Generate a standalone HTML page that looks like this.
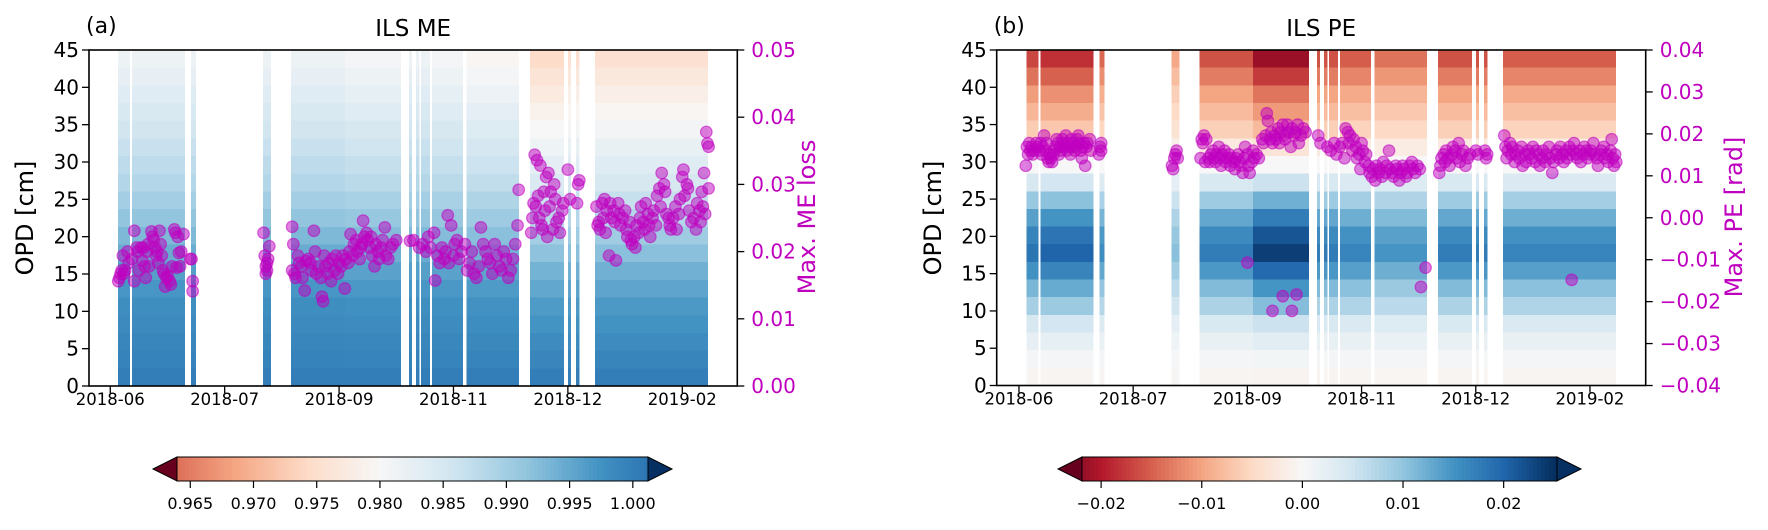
<!DOCTYPE html>
<html><head><meta charset="utf-8">
<style>
html,body{margin:0;padding:0;background:#fff;}
svg text{font-family:"DejaVu Sans","Liberation Sans",sans-serif;}
</style></head>
<body>
<svg id="fig" width="1768" height="525" viewBox="0 0 1768 525" xmlns="http://www.w3.org/2000/svg">
<g id="panelA"></g>
<g id="panelB"></g>
</svg>
<script>
// ---- data ----
const xTickLabels = ["2018-06","2018-07","2018-09","2018-11","2018-12","2019-02"];
const opdTicks = [0,5,10,15,20,25,30,35,40,45];
const meTicks = [0.00,0.01,0.02,0.03,0.04,0.05];
const peTicks = [-0.04,-0.03,-0.02,-0.01,0.00,0.01,0.02,0.03,0.04];
const cbTicksA = [0.965,0.970,0.975,0.980,0.985,0.990,0.995,1.000];
const cbTicksB = [-0.02,-0.01,0.00,0.01,0.02];
const nRows = 19;
// heatmap segments (time units, tick index) and per-segment parameters
const segStart = [0.067,0.19,0.705,1.335,1.58,2.05,2.611,2.672,2.716,2.811,3.114,3.669,4.001,4.071,4.238];
const segEnd   = [0.172,0.653,0.749,1.405,2.05,2.541,2.637,2.703,2.794,3.082,3.573,3.966,4.027,4.101,5.226];
const segShiftA = [0,0,0,0,0,-0.001,0,0,0,-0.001,-0.002,-0.007,-0.006,-0.006,-0.006];
const segScaleB = [1.05,1.15,0.9,0.6,1.0,1.35,1.0,1.0,1.0,0.95,0.85,1.0,1.0,1.0,0.95];
// ME profile per row, top row first
const meProfile = [0.9815,0.9825,0.9835,0.9845,0.9855,0.9865,0.9875,0.9885,0.990,0.9915,0.993,0.9945,0.996,0.997,0.998,0.9985,0.999,0.9995,1.0];
// PE profile per row, top row first
const peProfile = [-0.016,-0.013,-0.010,-0.008,-0.006,-0.0025,0.0,0.004,0.009,0.013,0.016,0.0175,0.0145,0.011,0.008,0.004,0.002,0.0005,-0.0005];
// scatter: Max ME loss
const meT = [0.07,0.08,0.09,0.10,0.11,0.12,0.13,0.15,0.16,0.19,0.21,0.21,0.23,0.24,0.25,0.27,0.28,0.29,0.30,0.31,0.32,0.33,0.34,0.36,0.37,0.38,0.39,0.40,0.41,0.42,0.43,0.44,0.45,0.46,0.47,0.48,0.49,0.50,0.52,0.53,0.54,0.56,0.57,0.58,0.59,0.60,0.61,0.62,0.64,0.70,0.71,0.72,0.72,
1.34,1.35,1.36,1.37,1.38,1.39,1.37,1.36,
1.59,1.59,1.60,1.61,1.62,1.64,1.65,1.67,1.68,1.70,1.71,1.73,1.75,1.76,1.78,1.79,1.80,1.82,1.84,1.85,1.86,1.87,1.88,1.90,1.91,1.93,1.94,1.96,1.97,1.99,2.00,2.02,2.03,2.05,2.06,2.08,2.09,2.10,2.12,2.13,2.15,2.16,2.18,2.19,2.20,2.21,2.22,2.24,2.25,2.27,2.28,2.29,2.31,2.32,2.34,2.35,2.37,2.38,2.40,2.41,2.43,2.45,2.47,2.50,
2.62,2.65,2.70,2.73,2.76,2.78,2.80,2.83,2.84,2.86,2.88,2.90,2.92,2.93,2.95,2.96,2.98,3.00,3.01,3.03,3.05,3.07,3.10,3.12,3.14,3.16,3.18,3.20,3.22,3.24,3.26,3.28,3.30,3.32,3.34,3.36,3.38,3.40,3.42,3.44,3.46,3.48,3.50,3.52,3.54,3.56,3.57,
3.68,3.69,3.70,3.71,3.72,3.73,3.74,3.75,3.76,3.77,3.78,3.79,3.80,3.81,3.82,3.83,3.84,3.85,3.87,3.88,3.89,3.90,3.92,3.93,3.95,3.96,4.00,4.02,4.08,4.09,4.10,
4.25,4.26,4.27,4.28,4.30,4.31,4.32,4.33,4.34,4.36,4.37,4.38,4.40,4.41,4.42,4.44,4.45,4.46,4.48,4.50,4.51,4.52,4.54,4.55,4.56,4.58,4.59,4.60,4.62,4.63,4.64,4.66,4.67,4.68,4.70,4.71,4.72,4.74,4.75,4.77,4.78,4.80,4.81,4.82,4.84,4.85,4.86,4.88,4.89,4.90,4.92,4.94,4.95,4.97,4.98,5.00,5.01,5.02,5.04,5.05,5.06,5.08,5.10,5.12,5.13,5.15,5.16,5.17,5.18,5.19,5.20,5.21,5.22,5.23,5.23];
const meV = [.0156,.0161,.0167,.0172,.0194,.0167,.0172,.02,.0183,.0189,.0231,.0156,.0206,.02,.0172,.0206,.0187,.0206,.0178,.0161,.02,.0211,.0178,.023,.0222,.0217,.0206,.0194,.02,.0183,.0231,.0211,.0194,.0172,.0167,.0148,.0161,.0164,.0156,.0151,.0178,.0233,.0228,.0176,.0222,.0198,.0178,.02,.0226,.0189,.0189,.0156,.0141,
.0228,.0194,.0178,.0172,.0189,.0208,.0183,.0167,
.0237,.0172,.0211,.0167,.0161,.0194,.0183,.0178,.0161,.0142,.0186,.0189,.0183,.0172,.0231,.02,.0167,.0178,.0161,.0133,.0126,.0194,.0178,.0167,.0183,.0156,.0189,.0172,.0194,.0167,.0183,.0178,.0194,.0145,.0189,.0183,.0200,.0226,.0194,.0211,.0217,.0200,.0189,.0206,.0211,.0246,.0222,.0228,.0217,.0206,.0222,.0194,.0178,.0211,.0200,.0189,.0206,.0217,.0236,.0194,.0189,.0206,.0211,.0217,
.0216,.0217,.0206,.0211,.0200,.0222,.0206,.0228,.0157,.0194,.0183,.0206,.0189,.0200,.0254,.0183,.0239,.0194,.0211,.0217,.0189,.0200,.0211,.0172,.0183,.0200,.0167,.0161,.0178,.0236,.0211,.0200,.0189,.0183,.0167,.0211,.0194,.0178,.0172,.0200,.0189,.0161,.0172,.0189,.0211,.0239,.0292,
.0228,.0250,.0272,.0344,.0267,.0336,.0283,.0250,.0328,.0239,.0233,.0289,.0261,.0311,.0222,.0317,.0267,.0289,.0233,.0300,.0278,.0244,.0250,.0228,.0261,.0272,.0322,.0278,.0272,.0300,.0306,
.0267,.0239,.0244,.0233,.0272,.0250,.0278,.0228,.0261,.0194,.0272,.0250,.0261,.0244,.0187,.0272,.0256,.0239,.0250,.0261,.0233,.0222,.0244,.0217,.0211,.0222,.0206,.0239,.0228,.0250,.0267,.0244,.0233,.0272,.0256,.0239,.0222,.0250,.0261,.0239,.0283,.0294,.0267,.0317,.0300,.0289,.0256,.0250,.0239,.0233,.0250,.0267,.0233,.0256,.0278,.0311,.0322,.0283,.0300,.0294,.0261,.0244,.0250,.0233,.0272,.0261,.0244,.0289,.0267,.0317,.0256,.0378,.0361,.0356,.0294];
// scatter: Max PE
const peT = [0.06,0.07,0.08,0.09,0.10,0.11,0.12,0.13,0.15,0.16,0.18,0.19,0.20,0.21,0.22,0.23,0.24,0.25,0.26,0.27,0.28,0.29,0.30,0.31,0.32,0.33,0.34,0.35,0.36,0.37,0.38,0.39,0.40,0.41,0.42,0.43,0.44,0.45,0.46,0.47,0.48,0.49,0.50,0.51,0.52,0.53,0.54,0.55,0.56,0.57,0.58,0.59,0.60,0.62,0.63,0.70,0.71,0.72,0.72,
1.34,1.35,1.36,1.37,1.38,1.39,
1.59,1.60,1.61,1.62,1.63,1.64,1.66,1.67,1.68,1.70,1.71,1.72,1.73,1.75,1.76,1.77,1.78,1.80,1.81,1.82,1.84,1.85,1.86,1.88,1.89,1.90,1.92,1.93,1.94,1.96,1.97,1.98,2.00,2.01,2.02,2.04,2.05,2.06,2.08,2.10,2.00,
2.13,2.14,2.16,2.17,2.18,2.20,2.21,2.22,2.24,2.25,2.27,2.28,2.29,2.31,2.32,2.33,2.35,2.36,2.38,2.39,2.41,2.42,2.44,2.45,2.47,2.49,2.51,2.22,2.31,2.39,2.43,
2.62,2.64,2.70,2.73,2.76,2.78,2.81,2.83,2.85,2.86,2.88,2.89,2.90,2.92,2.93,2.95,2.96,2.98,2.99,3.00,3.01,3.03,3.04,
3.06,3.07,3.09,3.10,3.12,3.13,3.15,3.16,3.18,3.19,3.21,3.22,3.24,3.25,3.27,3.28,3.30,3.31,3.33,3.34,3.36,3.37,3.39,3.40,3.42,3.44,3.45,3.47,3.49,3.51,3.52,3.56,
3.68,3.69,3.70,3.72,3.73,3.74,3.76,3.77,3.79,3.80,3.82,3.83,3.85,3.86,3.88,3.89,3.91,3.93,3.95,4.00,4.02,4.08,4.09,4.10,
4.25,4.26,4.27,4.28,4.30,4.31,4.32,4.34,4.35,4.37,4.38,4.40,4.41,4.43,4.44,4.46,4.47,4.49,4.50,4.52,4.53,4.55,4.56,4.58,4.59,4.61,4.62,4.64,4.65,4.67,4.68,4.70,4.71,4.73,4.74,4.76,4.77,4.79,4.80,4.82,4.83,4.85,4.86,4.88,4.89,4.91,4.92,4.94,4.95,4.97,4.98,5.00,5.01,5.03,5.04,5.06,5.07,5.09,5.10,5.12,5.13,5.15,5.16,5.18,5.19,5.20,5.21,5.22,5.23,4.84];
const peV = [.0124,.0169,.0151,.0178,.016,.0169,.0151,.016,.0178,.0169,.016,.0178,.0151,.0169,.0196,.016,.0178,.0142,.0133,.0151,.0142,.0133,.0151,.016,.0169,.0187,.0178,.0151,.0169,.016,.0187,.0178,.0169,.0196,.016,.0178,.0169,.0151,.0187,.0169,.0178,.016,.0169,.0187,.0196,.0178,.016,.0142,.0169,.0178,.0124,.0169,.0178,.0187,.016,.0151,.0169,.0178,.016,
.0124,.0116,.0142,.0151,.016,.0142,
.0142,.0187,.0178,.0196,.0133,.0187,.0142,.0133,.0151,.0160,.0142,.0133,.0151,.0169,.0142,.0124,.0151,.016,.0133,.0142,.0151,.0124,.0142,.0133,.0116,.0142,.0151,.0133,.0124,.0107,.0142,.0169,.0151,.0124,.0107,.0133,.016,.0142,.0151,.0142,-.0107,
.0187,.0178,.0196,.0249,.0231,.0187,.0204,.0178,.0196,.0187,.0213,.0178,.0204,.0222,.0196,.0187,.0222,.0204,.0169,.0213,.0196,.0204,.0222,.0178,.0196,.0213,.0204,-.0222,-.0187,-.0222,-.0183,
.0196,.0178,.0169,.0160,.0178,.0151,.0169,.0178,.0142,.0213,.0204,.0178,.0196,.0160,.0187,.0169,.0142,.0151,.0116,.0178,.0160,.0133,.0151,
.0124,.0107,.0098,.0116,.0089,.0124,.0107,.0116,.0098,.0133,.0107,.0124,.0160,.0116,.0107,.0098,.0124,.0116,.0089,.0107,.0124,.0116,.0098,.0107,.0124,.0133,.0116,.0107,.0124,.0116,-.0165,-.0119,
.0107,.0124,.0142,.0151,.0133,.0160,.0142,.0124,.0151,.0169,.0160,.0142,.0178,.0133,.0151,.016,.0124,.0142,.0151,.0160,.0151,.0160,.0142,.0151,
.0196,.0169,.0142,.0160,.0178,.0151,.0169,.0133,.0151,.0160,.0142,.0169,.0124,.0151,.0133,.0160,.0151,.0142,.0169,.0133,.0160,.0151,.0124,.0142,.0160,.0133,.0151,.0169,.0142,.0107,.0133,.0151,.0160,.0142,.0169,.0151,.0133,.0160,.0142,.0169,.0151,.0160,.0178,.0151,.0142,.0160,.0133,.0151,.0169,.0160,.0142,.0151,.0160,.0178,.0151,.0142,.0124,.0151,.0160,.0169,.0142,.0151,.0133,.0160,.0187,.0142,.0124,.0151,.0133,-.0148];

// ---- helpers ----
const NS = "http://www.w3.org/2000/svg";
function mk(tag, attrs, parent){ const e=document.createElementNS(NS,tag); for(const k in attrs) e.setAttribute(k,attrs[k]); if(parent) parent.appendChild(e); return e; }
const rdbu = [[103,0,31],[178,24,43],[214,96,77],[244,165,130],[253,219,199],[247,247,247],[209,229,240],[146,197,222],[67,147,195],[33,102,172],[5,48,97]];
function cmap(t){ t=Math.max(0,Math.min(1,t)); const p=t*10, i=Math.min(9,Math.floor(p)), f=p-i; const a=rdbu[i], b=rdbu[i+1];
  return "rgb("+[0,1,2].map(k=>Math.round(a[k]+(b[k]-a[k])*f)).join(",")+")"; }
const tA = v => 0.5 + (v-0.98)*17.3;
const tB = v => 0.5 + v/0.05;

function makeScale(d0,d1,r0,r1){ return v => r0 + (v-d0)/(d1-d0)*(r1-r0); }

function drawPanel(g, o){
  const X = makeScale(o.u0, o.u1, o.left, o.right);
  const Y = makeScale(0, 45, o.bottom, o.top);
  const Y2 = makeScale(o.r0, o.r1, o.bottom, o.top);
  const hm = mk("g",{"shape-rendering":"crispEdges"},g);
  
  
  const rowH = 45/nRows;
  for(let s=0;s<segStart.length;s++){
    for(let r=0;r<nRows;r++){
      const top = 45 - r*rowH, bot = top-rowH;
      const val = o.cellValue(s,r);
      const rc = mk("rect",{x:X(segStart[s]).toFixed(2), y:Y(top).toFixed(2), width:(X(segEnd[s])-X(segStart[s])).toFixed(2), height:(Y(bot)-Y(top)+0.3).toFixed(2), fill:o.color(val)},hm);
      
      
    }
  }
  const sc = mk("g",{},g);
  
  
  for(let i=0;i<o.pt.length;i++){
    const c = mk("circle",{cx:X(o.pt[i]).toFixed(2), cy:Y2(o.pv[i]).toFixed(2), r:5.8, fill:"#bf00bf", "fill-opacity":0.5, stroke:"#bf00bf", "stroke-opacity":0.55, "stroke-width":1.2},sc);
    
    
  }
  const fr = mk("rect",{x:o.left,y:o.top,width:o.right-o.left,height:o.bottom-o.top,fill:"none",stroke:"#000","stroke-width":1.6},g);
  
  
  opdTicks.forEach(v=>{
    const y=Y(v);
    const tk = mk("line",{x1:o.left-7,x2:o.left,y1:y,y2:y,stroke:"#000","stroke-width":1.3},g);
    
    
    const t = mk("text",{x:o.left-10,y:y+7,"font-size":20,"text-anchor":"end",fill:"#000"},g);
    t.textContent = v;
    
    
  });
  o.rTicks.forEach(v=>{
    const y=Y2(v);
    const tk = mk("line",{x1:o.right,x2:o.right+7,y1:y,y2:y,stroke:"#000","stroke-width":1.3},g);
    
    
    const t = mk("text",{x:o.right+14,y:y+7,"font-size":20,fill:"#bf00bf"},g);
    t.textContent = v.toFixed(2).replace("-","\u2212");
    
    
  });
  xTickLabels.forEach((lab,i)=>{
    const x=X(i);
    const tk = mk("line",{x1:x,x2:x,y1:o.bottom,y2:o.bottom+7,stroke:"#000","stroke-width":1.3},g);
    
    
    const t = mk("text",{x:x,y:o.bottom+19,"font-size":16.5,"text-anchor":"middle",fill:"#000"},g);
    t.textContent = lab;
    
    
  });
  const cx=(o.left+o.right)/2;
  const ti = mk("text",{x:cx,y:36,"font-size":23,"text-anchor":"middle"},g); ti.textContent=o.title;
  
  
  const pl = mk("text",{x:o.left-3,y:33,"font-size":22},g); pl.textContent=o.letter;
  
  
  const yl = mk("text",{x:0,y:0,"font-size":24,"text-anchor":"middle",transform:"translate("+o.ylx+",218) rotate(-90)"},g); yl.textContent="OPD [cm]";
  
  
  const yr = mk("text",{x:0,y:0,"font-size":24,"text-anchor":"middle",fill:"#bf00bf",transform:"translate("+o.yrx+",217) rotate(-90)"},g); yr.textContent=o.rLabel;
  
  
  const cb = mk("g",{},g);
  
  
  const C = makeScale(o.cbv0,o.cbv1,o.cbx0,o.cbx1);
  const cy0=457, cy1=481, n=120;
  for(let i=0;i<n;i++){
    const v=o.cbv0+(o.cbv1-o.cbv0)*(i+0.5)/n;
    const xa=o.cbx0+(o.cbx1-o.cbx0)*i/n;
    mk("rect",{x:xa.toFixed(2),y:cy0,width:((o.cbx1-o.cbx0)/n+0.6).toFixed(2),height:cy1-cy0,fill:o.color(v),"shape-rendering":"crispEdges"},cb);
  }
  const ext1 = mk("polygon",{points:o.cbx0+","+cy0+" "+(o.cbx0-24)+","+(cy0+cy1)/2+" "+o.cbx0+","+cy1,fill:cmap(0),stroke:"#000","stroke-width":1},cb);
  
  
  const ext2 = mk("polygon",{points:o.cbx1+","+cy0+" "+(o.cbx1+24)+","+(cy0+cy1)/2+" "+o.cbx1+","+cy1,fill:cmap(1),stroke:"#000","stroke-width":1},cb);
  
  
  mk("rect",{x:o.cbx0,y:cy0,width:o.cbx1-o.cbx0,height:cy1-cy0,fill:"none",stroke:"#000","stroke-width":1},cb);
  o.cbTicks.forEach(v=>{
    const x=C(v);
    const tk = mk("line",{x1:x,x2:x,y1:cy1,y2:cy1+7,stroke:"#000","stroke-width":1.2},cb);
    
    
    const t = mk("text",{x:x,y:509,"font-size":16,"text-anchor":"middle"},cb);
    t.textContent = o.cbFmt(v);
    
    
  });
}

drawPanel(document.getElementById("panelA"),{
  left:89,right:737.3,top:50,bottom:386,u0:-0.186,u1:5.481,r0:0,r1:0.05,
  rTicks:meTicks,pt:meT,pv:meV,title:"ILS ME",letter:"(a)",rLabel:"Max. ME loss",ylx:33,yrx:815,
  cellValue:(s,r)=> meProfile[r] + segShiftA[s]*(nRows-1-r)/(nRows-1),
  color:v=>cmap(tA(v)),
  cbv0:0.96395,cbv1:1.0012,cbx0:177,cbx1:648,cbTicks:cbTicksA,cbFmt:v=>v.toFixed(3)
});
drawPanel(document.getElementById("panelB"),{
  left:996.7,right:1645.7,top:50,bottom:385.5,u0:-0.195,u1:5.488,r0:-0.04,r1:0.04,
  rTicks:peTicks,pt:peT,pv:peV,title:"ILS PE",letter:"(b)",rLabel:"Max. PE [rad]",ylx:941,yrx:1742,
  cellValue:(s,r)=> peProfile[r]*segScaleB[s],
  color:v=>cmap(tB(v)),
  cbv0:-0.0219,cbv1:0.0253,cbx0:1082,cbx1:1557,cbTicks:cbTicksB,cbFmt:v=>v.toFixed(2).replace("-","\u2212")
});
</script>
</body></html>
